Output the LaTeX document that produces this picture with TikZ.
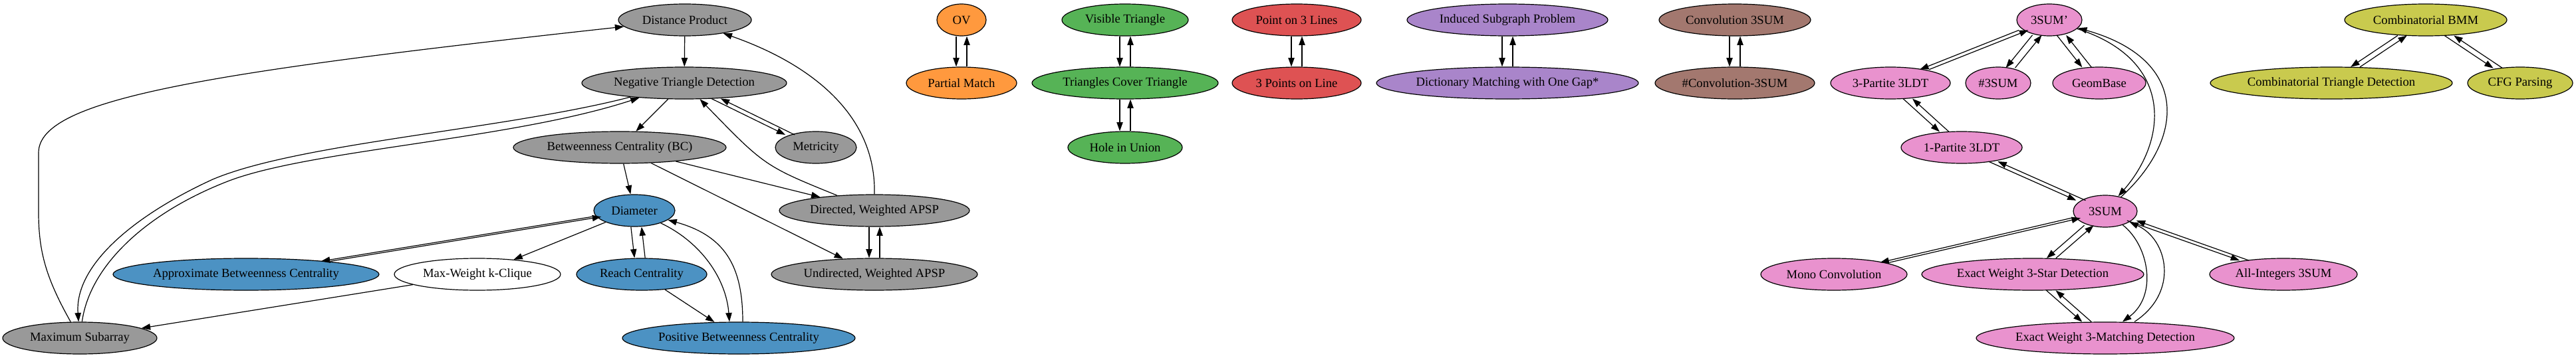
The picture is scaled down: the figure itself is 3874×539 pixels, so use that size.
\documentclass[tikz,border=0pt]{standalone}
\usepackage{fontspec}
\setmainfont{Liberation Serif}
\usetikzlibrary{shapes.geometric,arrows.meta,calc}
\definecolor{tgray}{HTML}{999999}
\definecolor{tblue}{HTML}{4C92C3}
\definecolor{torange}{HTML}{FF993E}
\definecolor{tgreen}{HTML}{56B356}
\definecolor{tred}{HTML}{DE5253}
\definecolor{tpurple}{HTML}{A985CA}
\definecolor{tbrown}{HTML}{A3786F}
\definecolor{tpink}{HTML}{E992CE}
\definecolor{tolive}{HTML}{C9CA4E}
\newcommand\bidir[3]{\draw[arr,#1dn] (#2) -- (#3); \draw[arr,#1up] (#3) -- (#2);}
\begin{document}
\begin{tikzpicture}[x=0.75pt,y=-0.75pt,
  nd/.style={ellipse,draw=black,line width=0.9pt,minimum height=36pt,inner sep=0pt,inner xsep=-15pt,font=\fontsize{14}{16}\selectfont},
  wd/.style={minimum width=#1*0.75pt},
  arr/.style={line width=0.9pt,-{Triangle[length=10pt,width=7pt]}},
  vtdn/.style={transform canvas={xshift=-6pt}},
  vtup/.style={transform canvas={xshift=6pt}},
  dgdn/.style={transform canvas={xshift=-5.25pt}},
  dgup/.style={transform canvas={xshift=5.25pt}}]
\useasboundingbox (0,0) rectangle (3874,539);
% gray
\node[nd,fill=tgray,wd=200] (dp) at (1030,30) {Distance Product};
\node[nd,fill=tgray,wd=308] (ntd) at (1029,125) {Negative Triangle Detection};
\node[nd,fill=tgray,wd=320] (bc) at (932,222) {Betweenness Centrality (BC)};
\node[nd,fill=tgray,wd=122] (met) at (1227,222) {Metricity};
\node[nd,fill=tgray,wd=286] (dapsp) at (1315,317) {Directed, Weighted APSP};
\node[nd,fill=tgray,wd=310] (uapsp) at (1315,413) {Undirected, Weighted APSP};
\node[nd,fill=tgray,wd=232] (msub) at (120,509) {Maximum Subarray};
% blue
\node[nd,fill=tblue,wd=122] (diam) at (954,317) {Diameter};
\node[nd,fill=tblue,wd=400] (abc) at (370,413) {Approximate Betweenness Centrality};
\node[nd,fill=white,wd=250] (kcl) at (718,413) {Max-Weight k-Clique};
\node[nd,fill=tblue,wd=196] (reach) at (965,413) {Reach Centrality};
\node[nd,fill=tblue,wd=350] (pbc) at (1111,509) {Positive Betweenness Centrality};
% orange
\node[nd,fill=torange,wd=74] (ov) at (1446,30) {OV};
\node[nd,fill=torange,wd=166] (pm) at (1446,125) {Partial Match};
% green
\node[nd,fill=tgreen,wd=190] (vt) at (1692,30) {Visible Triangle};
\node[nd,fill=tgreen,wd=280] (tct) at (1692,125) {Triangles Cover Triangle};
\node[nd,fill=tgreen,wd=172] (hu) at (1692,222) {Hole in Union};
% red
\node[nd,fill=tred,wd=194] (ptl) at (1950,30) {Point on 3 Lines};
\node[nd,fill=tred,wd=194] (tpl) at (1950,125) {3 Points on Line};
% purple
\node[nd,fill=tpurple,wd=302] (isp) at (2267,30) {Induced Subgraph Problem};
\node[nd,fill=tpurple,wd=394] (dmg) at (2267,125) {Dictionary Matching with One Gap*};
% brown
\node[nd,fill=tbrown,wd=228] (cth) at (2609,30) {Convolution 3SUM};
\node[nd,fill=tbrown,wd=240] (hcth) at (2609,125) {\#Convolution-3SUM};
% pink
\node[nd,fill=tpink,wd=98] (sump) at (3082,30) {3SUM'};
\node[nd,fill=tpink,wd=180] (tpart) at (2843,125) {3-Partite 3LDT};
\node[nd,fill=tpink,wd=98] (hsum) at (3005,125) {\#3SUM};
\node[nd,fill=tpink,wd=140] (geom) at (3157,125) {GeomBase};
\node[nd,fill=tpink,wd=182] (opart) at (2950,222) {1-Partite 3LDT};
\node[nd,fill=tpink,wd=96] (sum) at (3166,318) {3SUM};
\node[nd,fill=tpink,wd=220] (mono) at (2758,413) {Mono Convolution};
\node[nd,fill=tpink,wd=334] (star) at (3057,413) {Exact Weight 3-Star Detection};
\node[nd,fill=tpink,wd=222] (allint) at (3434,413) {All-Integers 3SUM};
\node[nd,fill=tpink,wd=388] (match) at (3166,509) {Exact Weight 3-Matching Detection};
% olive
\node[nd,fill=tolive,wd=244] (bmm) at (3648,30) {Combinatorial BMM};
\node[nd,fill=tolive,wd=364] (ctd) at (3506,125) {Combinatorial Triangle Detection};
\node[nd,fill=tolive,wd=158] (cfg) at (3790,125) {CFG Parsing};

% gray / blue edges
\draw[arr] (dp) -- (ntd);
\draw[arr] (ntd) -- (bc);
\bidir{dg}{ntd}{met}
\draw[arr] (dapsp) .. controls (1150,250) .. (ntd);
\draw[arr] (dapsp.north) .. controls (1318,180) and (1230,100) .. (dp);
\draw[arr] (bc) -- (diam);
\draw[arr] (bc) -- (uapsp);
\draw[arr] (bc) -- (dapsp);
\bidir{vt}{dapsp}{uapsp}
\draw[arr] (ntd) .. controls (760,195) and (450,215) .. (320,270) .. controls (200,325) and (112,400) .. (msub);
\draw[arr] (msub) .. controls (135,400) and (220,320) .. (345,272) .. controls (470,225) and (770,210) .. (ntd);
\draw[arr] (msub) .. controls (70,420) and (58,380) .. (58,320) -- (58,230) .. controls (58,150) and (300,110) .. (dp);
\draw[arr] (kcl) -- (msub);
\draw[arr] (diam) -- (kcl);
\bidir{dg}{diam}{abc}
\bidir{vt}{diam}{reach}
\draw[arr] (reach) -- (pbc);
\draw[arr] (diam) .. controls (1055,365) and (1092,420) .. ([xshift=-10.5pt]pbc.north);
\draw[arr] ([xshift=4.5pt]pbc.north) .. controls (1117,400) and (1090,355) .. (diam);
% small clusters
\bidir{vt}{ov}{pm}
\bidir{vt}{vt}{tct}
\bidir{vt}{tct}{hu}
\bidir{vt}{ptl}{tpl}
\bidir{vt}{isp}{dmg}
\bidir{vt}{cth}{hcth}
% pink
\bidir{dg}{sump}{tpart}
\bidir{dg}{sump}{hsum}
\bidir{dg}{sump}{geom}
\bidir{dg}{tpart}{opart}
\bidir{dg}{opart}{sum}
\draw[arr] (sum) .. controls (3285,210) and (3295,90) .. (sump);
\draw[arr] (sump) .. controls (3270,90) and (3260,210) .. (sum);
\bidir{dg}{sum}{mono}
\bidir{dg}{sum}{star}
\bidir{dg}{star}{match}
\bidir{dg}{sum}{allint}
\draw[arr] (sum) .. controls (3232,370) and (3245,445) .. ([xshift=19.5pt]match.north);
\draw[arr] ([xshift=33pt]match.north) .. controls (3278,440) and (3260,360) .. (sum);
% olive
\bidir{dg}{bmm}{ctd}
\bidir{dg}{bmm}{cfg}
\end{tikzpicture}
\end{document}
